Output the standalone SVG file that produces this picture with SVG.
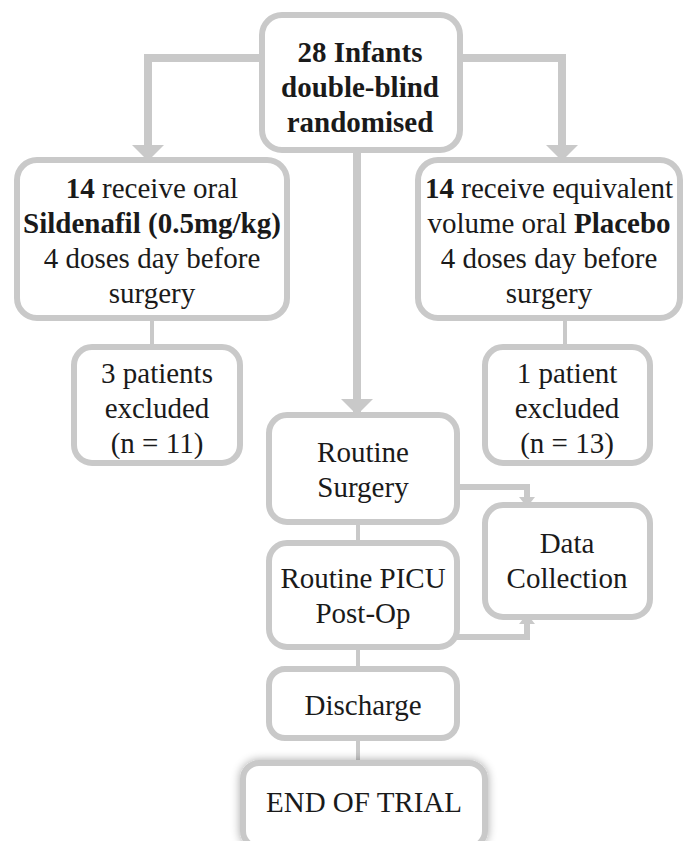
<svg xmlns="http://www.w3.org/2000/svg" width="683" height="841" viewBox="0 0 683 841">
<style>
.box{fill:#fff;stroke:#c9c9c9;stroke-width:6}
.t{font-family:'Liberation Serif','DejaVu Serif',serif;font-size:29px;fill:#1a1a1a;text-anchor:middle}
.b{font-weight:bold}
.thick{fill:none;stroke:#c9c9c9;stroke-width:8}
.thin{fill:none;stroke:#c9c9c9;stroke-width:4}
.mid{fill:none;stroke:#c9c9c9;stroke-width:6}
</style>
<defs>
<marker id="big" viewBox="0 0 16 32" markerWidth="16" markerHeight="32" refX="15" refY="16" orient="auto" markerUnits="userSpaceOnUse"><path d="M0,0 L16,16 L0,32 z" fill="#c9c9c9"/></marker>
<marker id="small" viewBox="0 0 10 16" markerWidth="10" markerHeight="16" refX="9" refY="8" orient="auto" markerUnits="userSpaceOnUse"><path d="M0,0 L10,8 L0,16 z" fill="#c9c9c9"/></marker>
<filter id="glow" x="-20%" y="-40%" width="140%" height="180%"><feGaussianBlur in="SourceAlpha" stdDeviation="5"/><feComponentTransfer><feFuncA type="linear" slope="0.35"/></feComponentTransfer><feMerge><feMergeNode/><feMergeNode in="SourceGraphic"/></feMerge></filter>
</defs>
<g id="connectors">
<path class="thick" d="M262,58 H148 V160" marker-end="url(#big)"/>
<path class="thick" d="M460,58 H562 V160" marker-end="url(#big)"/>
<path class="thick" d="M357,150 V414" marker-end="url(#big)"/>
<path class="thin" d="M152,318 V347"/>
<path class="thin" d="M565,318 V347"/>
<path class="mid" d="M457,487 H527 V506" marker-end="url(#small)"/>
<path class="mid" d="M457,637 H527 V615" marker-end="url(#small)"/>
<path class="thin" d="M358,522 V543"/>
<path class="thin" d="M358,647 V669"/>
<path class="thin" d="M358,738 V763"/>
</g>
<g id="n-top" font-family="Liberation Serif, serif">
<rect class="box" x="262" y="15" width="198" height="135" rx="20"/>
<text class="t b" x="360" y="62">28 Infants</text>
<text class="t b" x="360" y="97">double-blind</text>
<text class="t b" x="360" y="132">randomised</text>
</g>
<g id="n-sildenafil">
<rect class="box" x="17" y="160" width="270" height="158" rx="20"/>
<text class="t" x="152" y="198"><tspan class="b">14</tspan> receive oral</text>
<text class="t b" x="152" y="233">Sildenafil (0.5mg/kg)</text>
<text class="t" x="152" y="268">4 doses day before</text>
<text class="t" x="152" y="303">surgery</text>
</g>
<g id="n-placebo">
<rect class="box" x="418" y="160" width="262" height="158" rx="20"/>
<text class="t" x="549" y="198"><tspan class="b">14</tspan> receive equivalent</text>
<text class="t" x="549" y="233">volume oral <tspan class="b">Placebo</tspan></text>
<text class="t" x="549" y="268">4 doses day before</text>
<text class="t" x="549" y="303">surgery</text>
</g>
<g id="n-excl-left">
<rect class="box" x="74" y="347" width="166" height="116" rx="18"/>
<text class="t" x="157" y="383">3 patients</text>
<text class="t" x="157" y="418">excluded</text>
<text class="t" x="157" y="453">(n = 11)</text>
</g>
<g id="n-excl-right">
<rect class="box" x="485" y="347" width="165" height="116" rx="18"/>
<text class="t" x="567" y="383">1 patient</text>
<text class="t" x="567" y="418">excluded</text>
<text class="t" x="567" y="453">(n = 13)</text>
</g>
<g id="n-surgery">
<rect class="box" x="269" y="415" width="188" height="107" rx="18"/>
<text class="t" x="363" y="462">Routine</text>
<text class="t" x="363" y="497">Surgery</text>
</g>
<g id="n-data">
<rect class="box" x="485" y="505" width="165" height="112" rx="18"/>
<text class="t" x="567" y="553">Data</text>
<text class="t" x="567" y="588">Collection</text>
</g>
<g id="n-picu">
<rect class="box" x="269" y="543" width="188" height="104" rx="18"/>
<text class="t" x="363" y="588">Routine PICU</text>
<text class="t" x="363" y="623">Post-Op</text>
</g>
<g id="n-discharge">
<rect class="box" x="269" y="669" width="188" height="69" rx="16"/>
<text class="t" x="363" y="715">Discharge</text>
</g>
<g id="n-end">
<rect class="box" x="243" y="763" width="242" height="84" rx="16" filter="url(#glow)"/>
<text class="t" x="364" y="812">END OF TRIAL</text>
</g>
</svg>
